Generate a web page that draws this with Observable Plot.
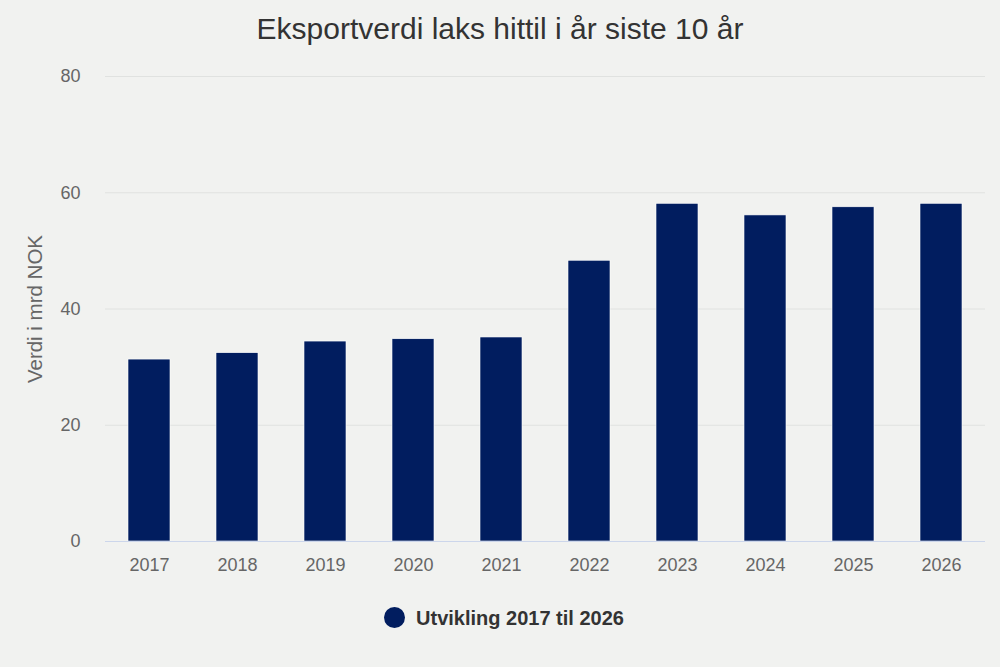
<!DOCTYPE html>
<html>
<head>
<meta charset="utf-8">
<script src="https://cdn.jsdelivr.net/npm/d3@7"></script>
<script src="https://cdn.jsdelivr.net/npm/@observablehq/plot@0.6"></script>
<style>
  html, body { margin: 0; padding: 0; background: #f1f2f0; }
  #wrap { position: relative; width: 1000px; height: 667px; background: #f1f2f0; font-family: "Liberation Sans", Arial, sans-serif; overflow: hidden; }
  #title { position: absolute; left: 0; top: 11px; width: 1000px; text-align: center; font-size: 30px; color: #333; line-height: 36px; }
  #chart { position: absolute; left: 0; top: 58px; }
  #legend { position: absolute; left: 4px; top: 605px; width: 1000px; text-align: center; font-size: 20px; font-weight: bold; color: #333; line-height: 26px; }
  #legend .dot { display: inline-block; width: 21px; height: 21px; border-radius: 50%; background: #011d5f; vertical-align: -3px; margin-right: 11px; }
  #chart svg g[aria-label="y-axis label"] text { font-size: 20.5px; }
</style>
</head>
<body>
<div id="wrap">
  <div id="title">Eksportverdi laks hittil i år siste 10 år</div>
  <div id="chart"></div>
  <div id="legend"><span class="dot"></span>Utvikling 2017 til 2026</div>
</div>
<script>
const years = ["2017","2018","2019","2020","2021","2022","2023","2024","2025","2026"];
const values = [31.3, 32.4, 34.4, 34.8, 35.1, 48.3, 58.1, 56.1, 57.5, 58.1];
const yTicks = [0, 20, 40, 60, 80];
const gridTicks = [20, 40, 60, 80];
const yLabel = "Verdi i mrd NOK";

const data = years.map((y, i) => ({year: y, value: values[i]}));

const chart = Plot.plot({
  width: 1000,
  height: 530,
  marginLeft: 105,
  marginRight: 15,
  marginTop: 18,
  marginBottom: 47,
  style: {background: "transparent", fontFamily: "Liberation Sans, Arial, sans-serif", fontSize: "18px", color: "#666"},
  x: {domain: years, paddingInner: 0.523, paddingOuter: 0.261, label: null},
  y: {domain: [0, 80], label: null},
  marks: [
    Plot.ruleY(gridTicks, {stroke: "#e0e2e0", strokeWidth: 1}),
    Plot.barY(data, {x: "year", y: "value", fill: "#011d5f", stroke: "#ffffff", strokeWidth: 0.6}),
    Plot.ruleY([0], {stroke: "#ccd6eb", strokeWidth: 1}),
    Plot.axisX({tickSize: 0, tickPadding: 17, fill: "#666", fontSize: 18, label: null}),
    Plot.axisY({ticks: yTicks, tickSize: 0, tickPadding: 25, fill: "#666", fontSize: 18,
      label: yLabel, labelAnchor: "center", labelArrow: "none", labelOffset: 78})
  ]
});
document.getElementById("chart").appendChild(chart);
</script>
</body>
</html>
